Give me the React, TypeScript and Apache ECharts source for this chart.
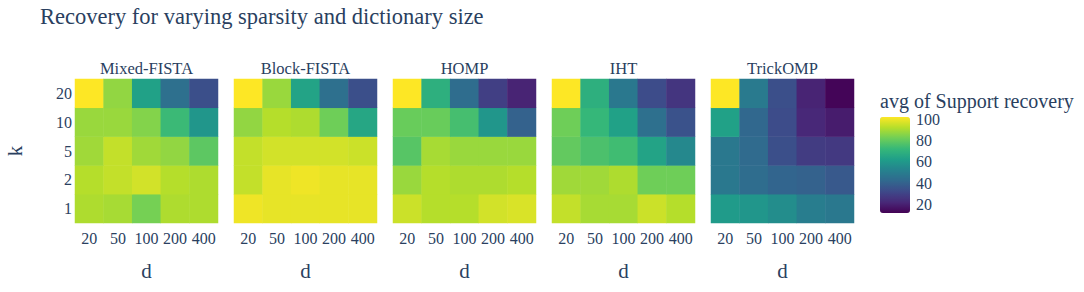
import React, { useEffect, useRef } from "react";
import * as echarts from "echarts";

const chartTitle = "Recovery for varying sparsity and dictionary size";
const colorbarTitle = "avg of Support recovery";
const dLabels = ["20", "50", "100", "200", "400"];
const kLabels = ["1", "2", "5", "10", "20"]; // bottom to top
const methods = ["Mixed-FISTA", "Block-FISTA", "HOMP", "IHT", "TrickOMP"];
const colorbarTicks = [20, 40, 60, 80, 100];

// rows in kLabels order (k=1 ... k=20), columns in dLabels order
const mixedFista = [
  [89, 88, 81, 89, 89],
  [90, 92, 94, 90, 89],
  [87, 92, 87, 85, 77],
  [86, 86, 83, 71, 57],
  [100, 85, 61, 43, 32],
];
const blockFista = [
  [98, 97, 97, 97, 97],
  [92, 97, 98, 97, 97],
  [92, 94, 94, 94, 93],
  [85, 90, 89, 80, 63],
  [100, 86, 62, 43, 32],
];
const homp = [
  [93, 90, 90, 94, 95],
  [86, 90, 89, 89, 90],
  [76, 88, 86, 86, 86],
  [79, 79, 73, 57, 38],
  [100, 67, 42, 27, 19],
];
const iht = [
  [92, 88, 88, 93, 90],
  [87, 87, 89, 80, 80],
  [78, 74, 72, 62, 52],
  [80, 70, 61, 43, 33],
  [100, 67, 46, 31, 24],
];
const trickOmp = [
  [59, 57, 54, 48, 46],
  [46, 42, 39, 38, 35],
  [46, 41, 32, 26, 25],
  [61, 40, 31, 20, 17],
  [100, 47, 32, 19, 11],
];
const allValues = [mixedFista, blockFista, homp, iht, trickOmp];

const viridis = [
  "#440154", "#482878", "#3e4989", "#31688e", "#26828e",
  "#1f9e89", "#35b779", "#6ece58", "#b5de2b", "#fde725",
];

const FONT = "Liberation Serif";
const TXT = "#2a3f5f";

export default function App() {
  const ref = useRef<HTMLDivElement>(null);
  useEffect(() => {
    if (!ref.current) return;
    const chart = echarts.init(ref.current, null, { renderer: "svg" });
    const gridTop = 79;
    const gridH = 144;
    const gridW = 143;
    const gridLefts = [75, 234, 393, 552, 711];

    const grids: any[] = gridLefts.map((l) => ({ left: l, top: gridTop, width: gridW, height: gridH }));
    grids.push({ left: 880, top: 117, width: 30, height: 96 });

    const xAxes: any[] = gridLefts.map((_, i) => ({
      type: "category",
      gridIndex: i,
      data: dLabels,
      name: "d",
      nameLocation: "middle",
      nameGap: 37,
      nameTextStyle: { fontFamily: FONT, fontSize: 21, color: TXT },
      axisLine: { show: false },
      axisTick: { show: false },
      splitLine: { show: false },
      axisLabel: { fontFamily: FONT, fontSize: 16, color: TXT, margin: 7, interval: 0 },
    }));
    xAxes.push({ type: "value", gridIndex: 5, show: false, min: 0, max: 1 });

    const yAxes: any[] = gridLefts.map((_, i) => ({
      type: "category",
      gridIndex: i,
      data: kLabels,
      name: i === 0 ? "k" : "",
      nameLocation: "middle",
      nameGap: 50,
      nameTextStyle: { fontFamily: FONT, fontSize: 21, color: TXT },
      axisLine: { show: false },
      axisTick: { show: false },
      splitLine: { show: false },
      axisLabel: { show: i === 0, fontFamily: FONT, fontSize: 16, color: TXT, margin: 3 },
    }));
    yAxes.push({
      type: "value",
      gridIndex: 5,
      position: "right",
      min: 10,
      max: 100,
      axisLine: { show: false },
      axisTick: { show: false },
      splitLine: { show: false },
      axisLabel: {
        fontFamily: FONT,
        fontSize: 16,
        lineHeight: 16,
        color: TXT,
        margin: 6,
        customValues: colorbarTicks,
        verticalAlign: "top",
        padding: [-6, 0, 0, 0],
      },
    });

    const series: any[] = allValues.map((rows, i) => ({
      type: "heatmap",
      xAxisIndex: i,
      yAxisIndex: i,
      data: rows.flatMap((row, yi) => row.map((v, xi) => [xi, yi, v])),
      itemStyle: { borderWidth: 0 },
      emphasis: { disabled: true },
    }));

    const graphics: any[] = methods.map((m, i) => ({
      type: "text",
      x: gridLefts[i] + gridW / 2,
      y: 68,
      style: {
        text: m,
        fontFamily: FONT,
        fontSize: 16.5,
        fill: TXT,
        textAlign: "center",
        textVerticalAlign: "middle",
      },
    }));

    chart.setOption({
      animation: false,
      backgroundColor: "#ffffff",
      title: [
        {
          text: chartTitle,
          left: 40,
          top: 5,
          padding: 0,
          textStyle: { fontFamily: FONT, fontSize: 22.5, color: TXT, fontWeight: "normal" },
        },
        {
          text: colorbarTitle,
          left: 880,
          top: 91,
          padding: 0,
          textStyle: { fontFamily: FONT, fontSize: 20, lineHeight: 20, color: TXT, fontWeight: "normal" },
        },
      ],
      grid: grids,
      xAxis: xAxes,
      yAxis: yAxes,
      visualMap: {
        type: "continuous",
        min: 10,
        max: 100,
        seriesIndex: [0, 1, 2, 3, 4],
        inRange: { color: viridis },
        left: 880,
        top: 117,
        itemWidth: 30,
        itemHeight: 96,
        padding: 0,
        calculable: false,
        hoverLink: false,
        text: null,
      },
      graphic: graphics,
      series,
    });
    return () => chart.dispose();
  }, []);
  return (
    <div
      ref={ref}
      style={{ position: "absolute", left: 0, top: 0, width: 1084, height: 292 }}
    />
  );
}
